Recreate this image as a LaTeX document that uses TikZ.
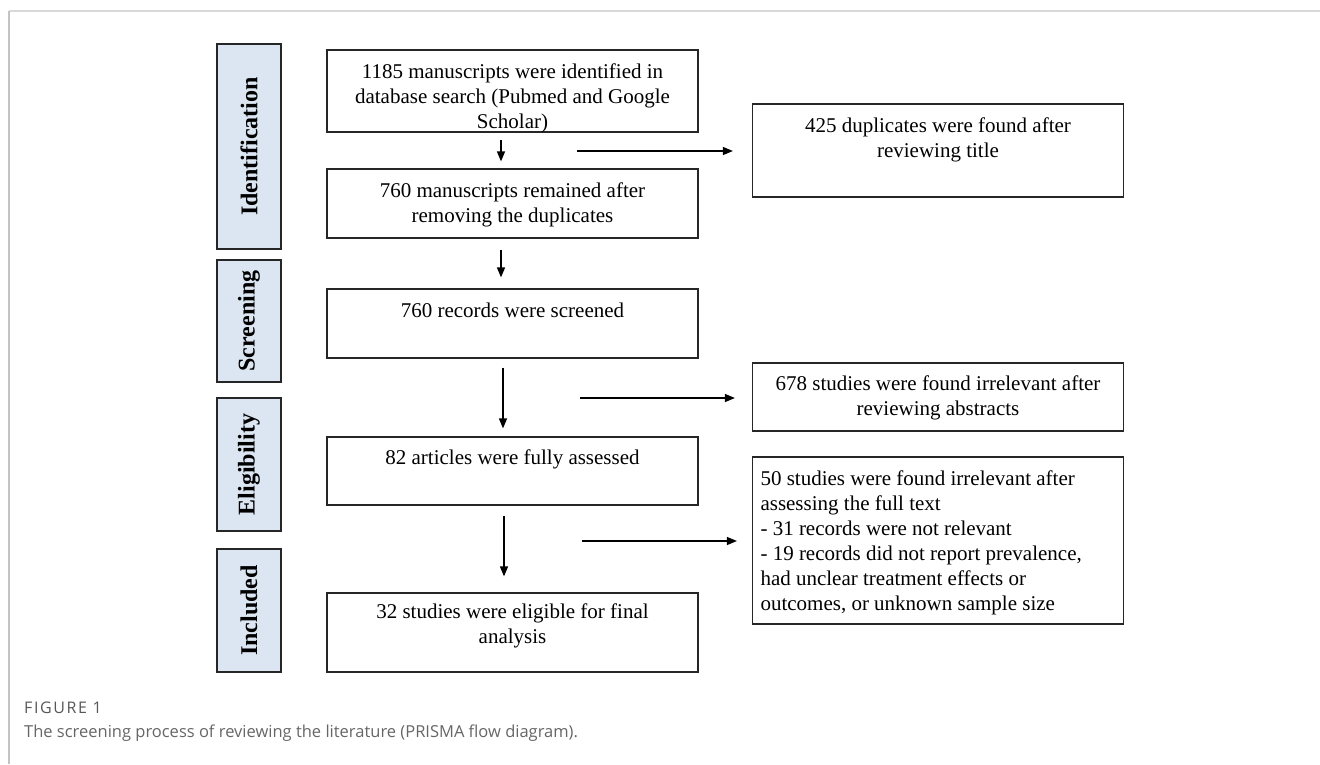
\documentclass[tikz,border=0pt]{standalone}
\usepackage{fontspec}
\setmainfont{Liberation Serif}
\newfontfamily\capfont{Open Sans}
\newfontfamily\figfont[LetterSpace=10]{Open Sans}
\usetikzlibrary{arrows.meta}
\definecolor{lblfill}{HTML}{DCE6F2}
\definecolor{boxline}{HTML}{262626}
\definecolor{capgray}{HTML}{666666}
\definecolor{framegray}{HTML}{D9D9D9}
\newcommand\tbox[4]{\parbox[c][#2][t]{#1}{\centering\rule{0pt}{#3}#4\par}}
\newcommand\lbox[4]{\parbox[c][#2][t]{#1}{\raggedright\leftskip=8pt\rule{0pt}{#3}#4\par}}
\tikzset{
  flowbox/.style={draw=boxline, line width=1.2pt, inner sep=0pt, font=\fontsize{21}{25}\selectfont},
  lbl/.style={draw=boxline, line width=1.2pt, fill=lblfill, rotate=90, inner sep=0pt,
    minimum height=64pt, font=\bfseries\fontsize{24}{28}\selectfont},
  arr/.style={line width=1.4pt, -{Triangle[length=10pt,width=8pt]}},
}
\begin{document}
\begin{tikzpicture}[x=1pt,y=-1pt]
\useasboundingbox (0,0) rectangle (1320,764);
% frame
\draw[framegray, line width=2pt] (9,11) -- (1320,11);
\draw[framegray!90!black, line width=1.5pt] (9,11) -- (9,764);
% stage labels
\node[lbl, minimum width=205pt] (lid) at (249,146.5) {Identification};
\node[lbl, minimum width=122pt] (lsc) at (249,321) {Screening};
\node[lbl, minimum width=133pt] (lel) at (249,464.5) {Eligibility};
\node[lbl, minimum width=123pt] (lin) at (249,610.5) {Included};
% main column
\node[flowbox] (n1) at (512.5,91) {\tbox{371pt}{82pt}{28pt}{1185 manuscripts were identified in\\database search (Pubmed and Google\\Scholar)}};
\node[flowbox] (n2) at (512.5,203.5) {\tbox{371pt}{69pt}{28pt}{760 manuscripts remained after\\removing the duplicates}};
\node[flowbox] (n3) at (512.5,323.5) {\tbox{371pt}{69pt}{28pt}{760 records were screened}};
\node[flowbox] (n4) at (512.5,471) {\tbox{371pt}{68pt}{27pt}{82 articles were fully assessed}};
\node[flowbox] (n5) at (512.5,632.5) {\tbox{371pt}{79pt}{25pt}{32 studies were eligible for final\\analysis}};
% right column
\node[flowbox] (r1) at (938,150.5) {\tbox{371pt}{93pt}{28pt}{425 duplicates were found after\\reviewing title}};
\node[flowbox] (r2) at (938,397) {\tbox{371pt}{68pt}{27pt}{678 studies were found irrelevant after\\reviewing abstracts}};
\node[flowbox] (r3) at (938,540.5) {\lbox{371pt}{167pt}{28pt}{50 studies were found irrelevant after\\assessing the full text\\- 31 records were not relevant\\- 19 records did not report prevalence,\\had unclear treatment effects or\\outcomes, or unknown sample size}};
% vertical arrows
\coordinate (va) at (501,0);
\coordinate (vb) at (503,0);
\coordinate (vc) at (504,0);
\draw[arr, shorten <=7pt, shorten >=7pt] (n1.south -| va) -- (n2.north -| va);
\draw[arr, shorten <=11pt, shorten >=11pt] (n2.south -| va) -- (n3.north -| va);
\draw[arr, shorten <=9pt, shorten >=8pt] (n3.south -| vb) -- (n4.north -| vb);
\draw[arr, shorten <=10pt, shorten >=16pt] (n4.south -| vc) -- (n5.north -| vc);
% horizontal arrows
\coordinate (h1) at (577,151);
\coordinate (h2) at (580,398);
\coordinate (h3) at (582,541);
\draw[arr, shorten >=19pt] (h1) -- (h1 -| r1.west);
\draw[arr, shorten >=17pt] (h2) -- (h2 -| r2.west);
\draw[arr, shorten >=15pt] (h3) -- (h3 -| r3.west);
% caption
\node[anchor=base west, inner sep=0pt, text=capgray!85!black, font=\figfont\fontsize{16}{18}\selectfont] (fig) at (24,713) {FIGURE 1};
\node[anchor=base west, inner sep=0pt, text=capgray, font=\capfont\fontsize{16.5}{20}\selectfont] (cap) at (24,737) {The screening process of reviewing the literature (PRISMA flow diagram).};
\end{tikzpicture}
\end{document}
